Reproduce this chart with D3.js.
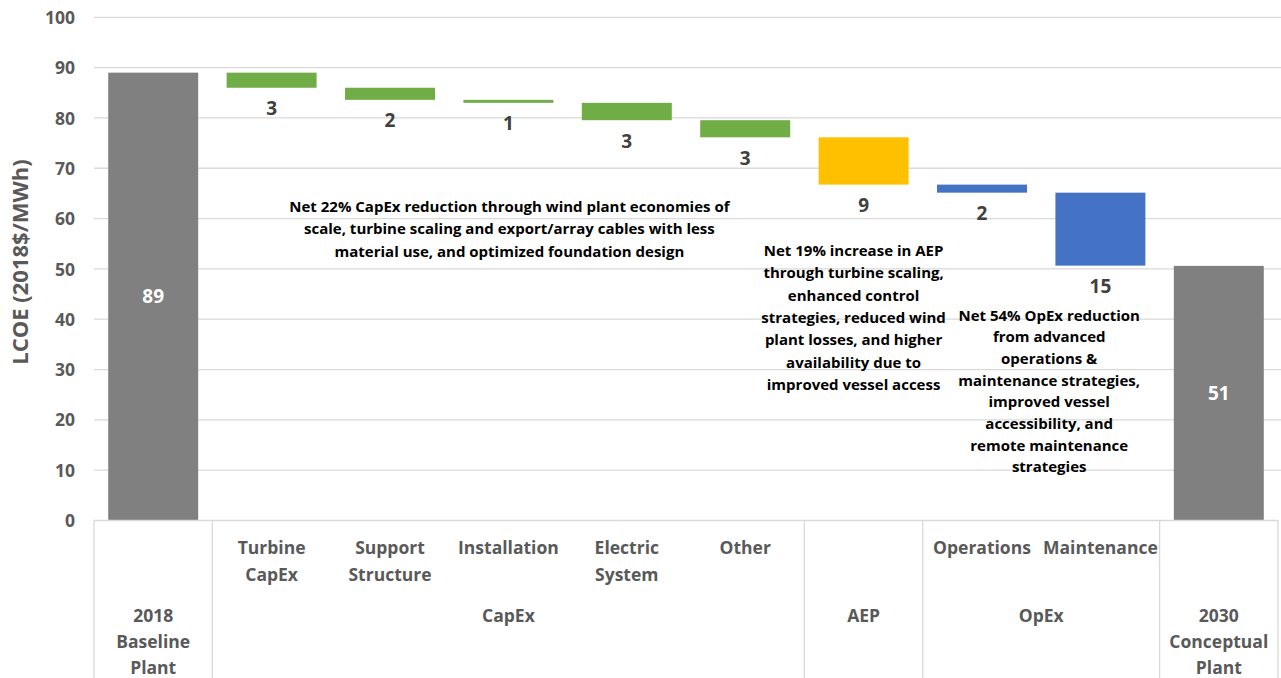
<!DOCTYPE html>
<html>
<head>
<meta charset="utf-8">
<script src="https://cdn.jsdelivr.net/npm/d3@7"></script>
<style>
  html, body { margin: 0; padding: 0; background: #fff; }
  svg { display: block; font-family: "Open Sans", "DejaVu Sans", sans-serif; font-weight: 700; }
</style>
</head>
<body>
<svg id="chart" width="1281" height="678"></svg>
<script>
// ---- data ----
const categories = ["Baseline", "Turbine CapEx", "Support Structure", "Installation", "Electric System", "Other", "AEP", "Operations", "Maintenance", "Conceptual"];
const subLabels = [[], ["Turbine", "CapEx"], ["Support", "Structure"], ["Installation"], ["Electric", "System"], ["Other"], [], ["Operations"], ["Maintenance"], []];
const groupLabels = ["2018|Baseline|Plant", "CapEx", "CapEx", "CapEx", "CapEx", "CapEx", "AEP", "OpEx", "OpEx", "2030|Conceptual|Plant"];
const values = [89.0, -3.0, -2.4, -0.6, -3.45, -3.4, -9.4, -1.6, -14.5, 50.6];
const kinds = ["total", "delta", "delta", "delta", "delta", "delta", "delta", "delta", "delta", "total"];
const colorGroup = ["total", "capex", "capex", "capex", "capex", "capex", "aep", "opex", "opex", "total"];
const yTicks = [0, 10, 20, 30, 40, 50, 60, 70, 80, 90, 100];
const yTitle = "LCOE (2018$/MWh)";
const notes = [
  { at: 3, lines: ["Net 22% CapEx reduction through wind plant economies of", "scale, turbine scaling and export/array cables with less", "material use, and optimized foundation design"] },
  { at: 6, lines: ["Net 19% increase in AEP", "through turbine scaling,", "enhanced control", "strategies, reduced wind", "plant losses, and higher", "availability due to", "improved vessel access"] },
  { at: 7.5, lines: ["Net 54% OpEx reduction", "from advanced", "operations &", "maintenance strategies,", "improved vessel", "accessibility, and", "remote maintenance", "strategies"] }
];

// ---- layout ----
const W = 1281, H = 678;
const plot = { left: 94, right: 1278, top: 17.3, bottom: 520.5 };
const colors = { total: "#808080", capex: "#70AD47", aep: "#FFC000", opex: "#4472C4" };
const gridColor = "#d9d9d9";
const axisText = "#595959";

const svg = d3.select("#chart");
const x = d3.scaleBand().domain(categories).range([plot.left, plot.right]).padding(0);
const y = d3.scaleLinear().domain([0, 100]).range([plot.bottom, plot.top]);
const barW = x.bandwidth() * 0.76;
const step = x.step();

// gridlines
svg.append("g").selectAll("line").data(yTicks.filter(d => d > 0)).join("line")
  .attr("x1", plot.left).attr("x2", W)
  .attr("y1", d => y(d)).attr("y2", d => y(d))
  .attr("stroke", gridColor).attr("stroke-width", 1.3);

// y axis (labels only)
const yAxis = d3.axisLeft(y).tickValues(yTicks).tickSize(0).tickPadding(0);
const gy = svg.append("g").attr("transform", `translate(75,0)`).call(yAxis);
gy.select(".domain").remove();
gy.selectAll("text").attr("fill", axisText).style("font-size", "17.5px")
  .style("font-family", '"Open Sans", sans-serif').style("font-weight", 700).attr("dy", "0.35em");

// y title
svg.append("text")
  .attr("transform", `translate(28,262) rotate(-90)`)
  .attr("text-anchor", "middle").attr("fill", axisText)
  .style("font-size", "22px").text(yTitle);

// compute waterfall
let running = 0;
const bars = values.map((v, i) => {
  let y0, y1;
  if (kinds[i] === "total") { y0 = 0; y1 = v; running = v; }
  else { y0 = running + v; y1 = running; running = running + v; }
  return { cat: categories[i], y0, y1, v, kind: kinds[i], color: colors[colorGroup[i]] };
});

svg.append("g").selectAll("rect").data(bars).join("rect")
  .attr("x", d => x(d.cat) + (x.bandwidth() - barW) / 2)
  .attr("width", barW)
  .attr("y", d => y(d.y1))
  .attr("height", d => y(d.y0) - y(d.y1))
  .attr("fill", d => d.color);

// value labels
svg.append("g").selectAll("text").data(bars).join("text")
  .attr("x", d => x(d.cat) + x.bandwidth() / 2)
  .attr("y", d => d.kind === "total" ? (y(d.y0) + y(d.y1)) / 2 : y(d.y0) + 21)
  .attr("dy", "0.35em")
  .attr("text-anchor", "middle")
  .attr("fill", d => d.kind === "total" ? "#ffffff" : "#404040")
  .style("font-size", "19px")
  .text(d => Math.round(Math.abs(d.v)));

// annotations
const noteOffsets = [
  { dx: 1, baseline: 212, lh: 22.3 },
  { dx: -10, baseline: 256, lh: 22.3 },
  { dx: 8, baseline: 320.5, lh: 21.7 }
];
notes.forEach((n, k) => {
  const cx = plot.left + step * (n.at + 0.5) + noteOffsets[k].dx;
  const t = svg.append("text").attr("text-anchor", "middle").attr("fill", "#000")
    .style("font-size", "15px");
  n.lines.forEach((ln, j) => {
    t.append("tspan").attr("x", cx).attr("y", noteOffsets[k].baseline + j * noteOffsets[k].lh).text(ln);
  });
});

// category axis
svg.append("line").attr("x1", plot.left).attr("x2", plot.right)
  .attr("y1", plot.bottom).attr("y2", plot.bottom)
  .attr("stroke", gridColor).attr("stroke-width", 1.3);

// group runs
const runs = [];
groupLabels.forEach((g, i) => {
  if (runs.length && runs[runs.length - 1].name === g) runs[runs.length - 1].end = i;
  else runs.push({ name: g, start: i, end: i });
});
const seps = [runs[0].start].concat(runs.map(r => r.end + 1));
svg.append("g").selectAll("line").data(seps).join("line")
  .attr("x1", i => plot.left + i * step).attr("x2", i => plot.left + i * step)
  .attr("y1", plot.bottom).attr("y2", H)
  .attr("stroke", gridColor).attr("stroke-width", 1.3);

// sub labels
categories.forEach((c, i) => {
  const lines = subLabels[i];
  if (!lines.length) return;
  const t = svg.append("text").attr("text-anchor", "middle").attr("fill", axisText).style("font-size", "17.5px");
  lines.forEach((ln, j) => t.append("tspan").attr("x", x(c) + x.bandwidth() / 2).attr("y", 554 + j * 26.5).text(ln));
});

// group labels
runs.forEach(r => {
  const cx = plot.left + step * (r.start + r.end + 1) / 2;
  const t = svg.append("text").attr("text-anchor", "middle").attr("fill", axisText).style("font-size", "17.5px");
  r.name.split("|").forEach((ln, j) => t.append("tspan").attr("x", cx).attr("y", 622 + j * 26).text(ln));
});
</script>
</body>
</html>
